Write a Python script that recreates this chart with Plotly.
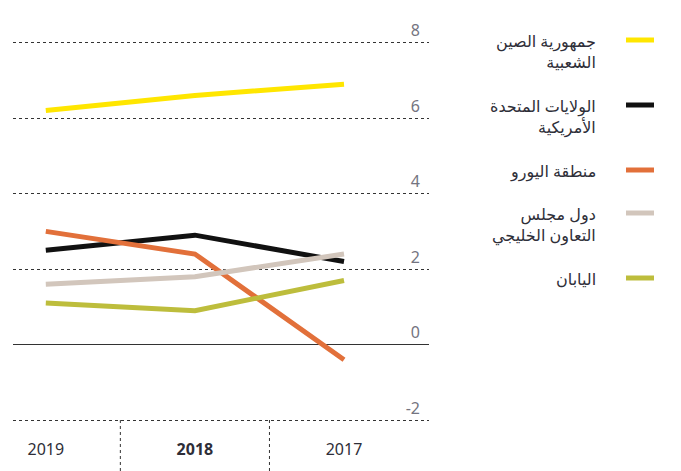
import plotly.graph_objects as go

years = ["2019", "2018", "2017"]
series_names = [
    "جمهورية الصين<br>الشعبية",
    "الولايات المتحدة<br>الأمريكية",
    "منطقة اليورو",
    "دول مجلس<br>التعاون الخليجي",
    "اليابان",
]
china = [6.2, 6.6, 6.9]
usa = [2.5, 2.9, 2.2]
euro = [3.0, 2.4, -0.4]
gcc = [1.6, 1.8, 2.4]
japan = [1.1, 0.9, 1.7]
series_values = [china, usa, euro, gcc, japan]
colors = ["#FFE600", "#111111", "#E2703A", "#D2C6BC", "#BDBD3C"]
y_ticks = [-2, 0, 2, 4, 6, 8]
y_ticktext = ["-2", "0", "2", "4", "6", "8"]

W, H = 681, 471
ml, mr, mt, mb = 13, 252, 20, 49

fig = go.Figure()
for name, vals, col in zip(series_names, series_values, colors):
    fig.add_trace(go.Scatter(
        x=years, y=vals, mode="lines", name=name,
        line=dict(color=col, width=5), showlegend=False,
    ))

font_family = "Noto Sans, DejaVu Sans, sans-serif"

ph = H - mt - mb
pw = W - ml - mr
def px_to_paper_x(px):
    return (px - ml) / pw
def px_to_paper_y(py):
    return (H - mb - py) / ph

# separators between categories below plot
for i in range(len(years) - 1):
    fig.add_shape(type="line", xref="x", yref="paper",
                  x0=i + 0.5, x1=i + 0.5, y0=px_to_paper_y(420), y1=px_to_paper_y(H),
                  line=dict(color="#333333", width=1, dash="dot"), layer="below")

# manual RTL legend
legend_y = [40, 105, 170, 213, 278]
for name, col, ly in zip(series_names, colors, legend_y):
    fig.add_shape(type="line", xref="paper", yref="paper",
                  x0=px_to_paper_x(626), x1=px_to_paper_x(654),
                  y0=px_to_paper_y(ly), y1=px_to_paper_y(ly),
                  line=dict(color=col, width=5))
    fig.add_annotation(xref="paper", yref="paper",
                       x=px_to_paper_x(598), y=px_to_paper_y(ly - 12),
                       xanchor="right", yanchor="top", align="right",
                       text=name, showarrow=False,
                       font=dict(family=font_family, size=16, color="#2E2E38"))

tick_text_x = [f"<b>{y}</b>" if i == 1 else y for i, y in enumerate(years)]

fig.update_layout(
    width=W, height=H,
    margin=dict(l=ml, r=mr, t=mt, b=mb),
    paper_bgcolor="white", plot_bgcolor="white",
    font=dict(family=font_family, size=16, color="#2E2E38"),
    xaxis=dict(
        type="category", categoryorder="array", categoryarray=years,
        range=[-0.22, 2.57], showgrid=False, zeroline=False,
        tickvals=years, ticktext=tick_text_x,
        ticks="", ticklen=0, ticklabelstandoff=16,
        tickfont=dict(size=16, color="#2E2E38"),
        showline=False,
    ),
    yaxis=dict(
        range=[-2.05, 8.6], side="right", tickvals=y_ticks, ticktext=y_ticktext,
        ticklabelposition="inside", ticklabelshift=-12, ticklabelstandoff=6,
        ticklabeloverflow="allow",
        showgrid=True, gridcolor="#333333", griddash="dot", gridwidth=1,
        zeroline=True, zerolinecolor="#333333", zerolinewidth=1,
        tickfont=dict(size=16, color="#747480"), showline=False,
    ),
)

fig.write_html("out.html")
